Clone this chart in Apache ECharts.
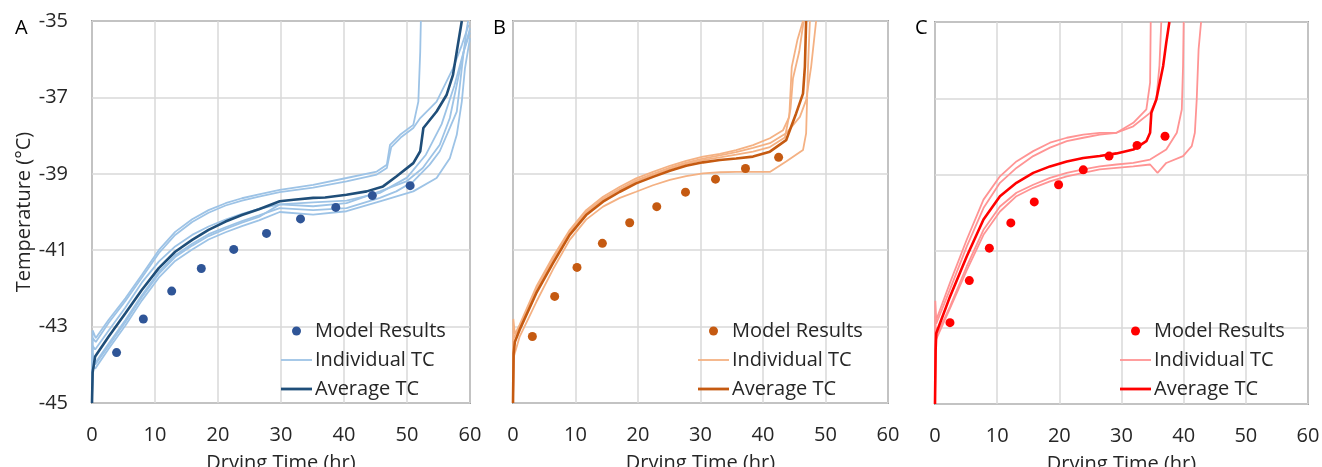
<!DOCTYPE html>
<html><head><meta charset="utf-8">
<script src="https://cdn.jsdelivr.net/npm/echarts@6/dist/echarts.min.js"></script>
<style>html,body{margin:0;padding:0;background:#fff}#c{width:1322px;height:467px}</style>
</head><body><div id="c"></div><script>
// ---------- data (drying time hr, temperature °C) ----------
const panelLabels = ['A', 'B', 'C'];
const seriesNames = ['Model Results', 'Individual TC', 'Average TC'];

// Panel A
const modelA = [[3.9,-43.68],[8.15,-42.80],[12.65,-42.07],[17.35,-41.48],[22.5,-40.98],[27.7,-40.56],[33.1,-40.18],[38.7,-39.88],[44.5,-39.57],[50.5,-39.31]];
const avgA = [[0,-45],[0.1,-44.2],[0.5,-43.78],[2.65,-43.26],[5.3,-42.65],[7.9,-42.04],[10.6,-41.47],[13.2,-41.04],[15.9,-40.73],[18.5,-40.47],[21.2,-40.25],[23.8,-40.08],[26.5,-39.93],[29.8,-39.72],[32,-39.68],[35.1,-39.63],[37,-39.62],[40.4,-39.55],[43.6,-39.46],[46.2,-39.33],[48.3,-39.07],[51.0,-38.72],[52.1,-38.41],[52.6,-37.8],[54.7,-37.37],[56.3,-36.93],[57.3,-36.41],[57.9,-35.8],[58.7,-35.0]];
const indA1 = [[0,-45],[0.1,-43.1],[0.6,-43.3],[2.65,-42.82],[5.3,-42.26],[7.9,-41.65],[10.6,-41.0],[13.2,-40.52],[15.9,-40.19],[18.5,-39.95],[21.2,-39.77],[23.8,-39.64],[26.5,-39.54],[29.8,-39.42],[35.1,-39.29],[40.4,-39.11],[45.2,-38.94],[46.8,-38.76],[47.3,-38.24],[48.9,-37.98],[51.0,-37.72],[51.8,-37.11],[52.1,-35.8],[52.2,-35]];
const indA2 = [[0,-45],[0.1,-43.3],[0.6,-43.4],[2.65,-42.9],[5.3,-42.33],[7.9,-41.72],[10.6,-41.08],[13.2,-40.6],[15.9,-40.26],[18.5,-40.02],[21.2,-39.83],[23.8,-39.7],[26.5,-39.6],[29.8,-39.48],[35.1,-39.36],[40.4,-39.2],[45.2,-39.02],[46.8,-38.85],[47.5,-38.3],[49,-38.05],[51,-37.8],[52.1,-37.54],[54.7,-37.11],[57.3,-36.24],[58.7,-35.63],[59.8,-35.1]];
const indA3 = [[0,-45],[0.1,-43.7],[0.5,-43.95],[2.65,-43.44],[5.3,-42.83],[7.9,-42.18],[10.6,-41.57],[13.2,-41.13],[15.9,-40.83],[18.5,-40.58],[21.2,-40.4],[23.8,-40.24],[26.5,-40.09],[29.8,-39.9],[35.1,-39.95],[40.4,-39.9],[45.7,-39.63],[48.3,-39.46],[51,-39.2],[53.6,-38.76],[55.2,-38.41],[56.8,-37.8],[57.9,-37.37],[58.4,-36.67],[59,-35.8],[59.5,-35.19],[59.7,-35]];
const indA4 = [[0,-45],[0.1,-44.0],[0.5,-44.1],[2.65,-43.58],[5.3,-42.97],[7.9,-42.32],[10.6,-41.72],[13.2,-41.28],[15.9,-40.98],[18.5,-40.72],[21.2,-40.53],[23.8,-40.37],[26.5,-40.22],[29.8,-40.0],[35.1,-40.07],[40.4,-39.98],[45.7,-39.72],[51,-39.46],[54.7,-39.11],[56.8,-38.59],[57.9,-37.98],[58.7,-37.11],[59.2,-36.24],[60,-35.45]];
const indA5 = [[0,-45],[0.1,-43.8],[0.5,-44.0],[2.65,-43.5],[5.3,-42.88],[7.9,-42.23],[10.6,-41.62],[13.2,-41.18],[15.9,-40.88],[18.5,-40.63],[21.2,-40.44],[23.8,-40.28],[26.5,-40.13],[29.8,-39.8],[35.1,-39.85],[40.4,-39.77],[45.7,-39.46],[49.9,-39.2],[52.5,-38.85],[55.2,-38.24],[56.8,-37.54],[57.9,-36.67],[59,-35.8],[60,-35.19]];
const indA6 = [[0,-45],[0.1,-43.5],[0.5,-43.6],[2.65,-43.1],[5.3,-42.5],[7.9,-41.85],[10.6,-41.3],[13.2,-40.9],[15.9,-40.6],[18.5,-40.38],[21.2,-40.2],[23.8,-40.05],[26.5,-39.92],[29.8,-39.8],[35.1,-39.75],[40.4,-39.7],[45.7,-39.5],[50,-39.1],[53,-38.5],[55.5,-37.7],[57.5,-36.7],[59,-35.8],[60,-35.3]];

// Panel B
const modelB = [[3.1,-43.26],[6.67,-42.21],[10.24,-41.45],[14.3,-40.82],[18.67,-40.28],[23.0,-39.86],[27.6,-39.48],[32.4,-39.14],[37.2,-38.86],[42.5,-38.57]];
const avgB = [[0,-45],[0.1,-43.7],[0.3,-43.4],[1.07,-43.08],[3.74,-42.12],[6.4,-41.34],[9.07,-40.6],[11.7,-40.08],[14.4,-39.73],[17.1,-39.47],[19.7,-39.25],[22.4,-39.08],[25.1,-38.92],[27.7,-38.79],[30.4,-38.7],[33.1,-38.64],[35.7,-38.6],[38.4,-38.55],[41.1,-38.42],[43.7,-38.12],[44.5,-37.77],[45.3,-37.42],[46.4,-36.9],[46.7,-36.2],[46.9,-35]];
const indB1 = [[0,-45],[0.05,-42.8],[0.3,-43.2],[1.07,-42.95],[3.74,-41.95],[6.4,-41.17],[9.07,-40.47],[11.7,-39.95],[14.4,-39.6],[17.1,-39.34],[19.7,-39.12],[22.4,-38.95],[25.1,-38.79],[27.7,-38.66],[30.4,-38.55],[33.1,-38.48],[35.7,-38.38],[38.4,-38.25],[41.1,-38.07],[43.2,-37.86],[44.2,-37.51],[44.6,-36.2],[45.5,-35.5],[46.4,-35]];
const indB2 = [[0,-45],[0.1,-43.3],[1.07,-43.0],[3.74,-42.02],[6.4,-41.23],[9.07,-40.52],[11.7,-40.0],[14.4,-39.65],[17.1,-39.39],[19.7,-39.17],[22.4,-39.0],[25.1,-38.84],[27.7,-38.71],[30.4,-38.6],[33.1,-38.52],[35.7,-38.43],[38.4,-38.32],[41.1,-38.2],[43.7,-37.94],[45.9,-37.51],[46.9,-37.07],[47.7,-36.2],[48.5,-35]];
const indB3 = [[0,-45],[0.1,-43.5],[1.07,-43.03],[3.74,-42.06],[6.4,-41.27],[9.07,-40.55],[11.7,-40.03],[14.4,-39.68],[17.1,-39.42],[19.7,-39.2],[22.4,-39.03],[25.1,-38.87],[27.7,-38.74],[30.4,-38.64],[33.1,-38.57],[35.7,-38.5],[38.4,-38.42],[41.1,-38.3],[43.5,-38.05],[44.4,-37.3],[44.8,-36.5],[45.8,-35.8],[46.5,-35]];
const indB4 = [[0,-45],[0.1,-43.8],[1.07,-43.26],[3.74,-42.35],[6.4,-41.5],[9.07,-40.73],[11.7,-40.2],[14.4,-39.86],[17.1,-39.63],[19.7,-39.47],[22.4,-39.3],[25.1,-39.16],[27.7,-39.06],[30.4,-38.99],[33.1,-38.96],[35.7,-38.95],[38.4,-38.95],[41.1,-38.95],[43.7,-38.68],[46.4,-38.38],[46.9,-37.94],[47.2,-36.2],[47.5,-35]];

// Panel C
const modelC = [[2.41,-42.87],[5.52,-41.77],[8.74,-40.92],[12.2,-40.26],[15.97,-39.71],[19.88,-39.26],[23.85,-38.87],[28.0,-38.51],[32.5,-38.23],[37.0,-37.99]];
const avgC = [[0,-45],[0.1,-43.6],[0.2,-43.15],[2.41,-42.19],[5.1,-41.14],[7.8,-40.17],[10.45,-39.56],[13.1,-39.21],[15.8,-38.95],[18.5,-38.78],[21.2,-38.65],[23.85,-38.56],[26.5,-38.51],[29.2,-38.44],[31.9,-38.34],[34.0,-38.12],[34.6,-37.9],[34.8,-37.38],[35.6,-37.03],[36.7,-36.15],[37.2,-35.54],[37.7,-35]];
const indC1 = [[0,-45],[0.05,-42.3],[0.2,-42.8],[2.41,-41.83],[5.1,-40.7],[7.8,-39.65],[10.45,-39.04],[13.1,-38.65],[15.8,-38.38],[18.5,-38.16],[21.2,-38.03],[23.85,-37.95],[26.5,-37.9],[29.2,-37.9],[31.9,-37.64],[34.0,-37.29],[34.6,-36.59],[34.7,-35]];
const indC2 = [[0,-45],[0.1,-42.7],[0.2,-42.9],[2.41,-42.0],[5.1,-40.88],[7.8,-39.87],[10.45,-39.21],[13.1,-38.82],[15.8,-38.51],[18.5,-38.29],[21.2,-38.12],[23.85,-38.03],[26.5,-37.95],[29.2,-37.9],[31.9,-37.73],[34.6,-37.38],[35.6,-37.03],[36.1,-36.15],[36.4,-35]];
const indC3 = [[0,-45],[0.1,-43.0],[0.2,-43.23],[2.41,-42.45],[5.1,-41.4],[7.8,-40.44],[10.45,-39.83],[13.1,-39.47],[15.8,-39.26],[18.5,-39.08],[21.2,-38.95],[23.85,-38.86],[26.5,-38.78],[29.2,-38.73],[31.9,-38.69],[34.6,-38.6],[37.2,-38.34],[38.9,-37.9],[39.7,-37.29],[39.9,-36.15],[40.0,-35]];
const indC4 = [[0,-45],[0.1,-43.1],[0.2,-43.3],[2.41,-42.5],[5.1,-41.5],[7.8,-40.57],[10.45,-39.96],[13.1,-39.56],[15.8,-39.34],[18.5,-39.17],[21.2,-39.04],[23.85,-38.95],[26.5,-38.86],[29.2,-38.82],[31.9,-38.78],[34.6,-38.73],[35.8,-38.95],[37.2,-38.69],[39.9,-38.51],[41.3,-38.25],[41.8,-37.9],[42.1,-37.03],[42.4,-35.72],[42.8,-35]];

// ---------- chart ----------
const FONT = 'Open Sans';
const TXT = '#262626';
const panels = [
  {model: modelA, avg: avgA, ind: [indA1, indA2, indA3, indA4, indA5, indA6], cInd: '#9DC3E6', cAvg: '#1F4E79', cDot: '#2F5597',
   grid: {left: 92, top: 21, width: 378, height: 382}, legendLeft: 281},
  {model: modelB, avg: avgB, ind: [indB1, indB2, indB3, indB4], cInd: '#F4B183', cAvg: '#C55A11', cDot: '#C55A11',
   grid: {left: 513, top: 21, width: 375, height: 382}, legendLeft: 698},
  {model: modelC, avg: avgC, ind: [indC1, indC2, indC3, indC4], cInd: '#FF9494', cAvg: '#FF0000', cDot: '#FF0000',
   grid: {left: 935, top: 22, width: 373, height: 382}, legendLeft: 1120}
];

const grids = [], xAxes = [], yAxes = [], series = [], legends = [];
panels.forEach((p, i) => {
  const suffix = '\u200b'.repeat(i);
  const nm = seriesNames.map(s => s + suffix);
  grids.push(Object.assign({show: true, borderColor: '#595959', borderWidth: 1.5, backgroundColor: 'transparent',
    containLabel: false, outerBoundsMode: 'none'}, p.grid));
  xAxes.push({
    type: 'value', gridIndex: i, min: 0, max: 60, interval: 10,
    axisLine: {show: false}, axisTick: {show: false},
    splitLine: {show: true, lineStyle: {color: '#D9D9D9', width: 1.5}},
    axisLabel: {fontFamily: FONT, fontSize: 20, color: TXT, margin: 22},
    name: 'Drying Time (hr)', nameLocation: 'middle', nameGap: 50,
    nameTextStyle: {fontFamily: FONT, fontSize: 20, color: TXT}
  });
  yAxes.push({
    type: 'value', gridIndex: i, min: -45, max: -35, interval: 2,
    axisLine: {show: false}, axisTick: {show: false},
    splitLine: {show: true, lineStyle: {color: '#D9D9D9', width: 1.5}},
    axisLabel: {show: i === 0, fontFamily: FONT, fontSize: 20, color: TXT, margin: 24},
    name: i === 0 ? 'Temperature (°C)' : '', nameLocation: 'middle', nameGap: 58,
    nameTextStyle: {fontFamily: FONT, fontSize: 20, color: TXT}
  });
  p.ind.forEach(d => series.push({
    type: 'line', name: nm[1], xAxisIndex: i, yAxisIndex: i, data: d, symbol: 'none', z: 2,
    lineStyle: {color: p.cInd, width: 1.8}, itemStyle: {color: p.cInd}, animation: false, clip: true
  }));
  series.push({
    type: 'line', name: nm[2], xAxisIndex: i, yAxisIndex: i, data: p.avg, symbol: 'none', z: 3,
    lineStyle: {color: p.cAvg, width: 2.6}, itemStyle: {color: p.cAvg}, animation: false, clip: true
  });
  series.push({
    type: 'scatter', name: nm[0], xAxisIndex: i, yAxisIndex: i, data: p.model, symbol: 'circle', symbolSize: 9, z: 4,
    itemStyle: {color: p.cDot, opacity: 1}, animation: false
  });
  legends.push({
    orient: 'vertical', left: p.legendLeft, top: 321, padding: 0, itemGap: 9,
    itemWidth: 31, itemHeight: 9, selectedMode: false, symbolKeepAspect: true,
    data: [
      {name: nm[0], icon: 'circle'},
      {name: nm[1], icon: 'path://M0,0H31V1.8H0Z'},
      {name: nm[2], icon: 'path://M0,0H31V2.8H0Z'}
    ],
    formatter: s => s.replace(/\u200b/g, ''),
    textStyle: {fontFamily: FONT, fontSize: 20, color: TXT, padding: [0, 0, 0, -2]}
  });
});

const chart = echarts.init(document.getElementById('c'), null, {renderer: 'canvas'});
chart.setOption({
  backgroundColor: '#fff',
  animation: false,
  grid: grids, xAxis: xAxes, yAxis: yAxes, series: series, legend: legends,
  graphic: panelLabels.map((t, i) => ({
    type: 'text', left: [15, 493, 915][i], top: 18,
    style: {text: t, fontFamily: FONT, fontSize: 20, fill: '#000'}
  }))
});
</script></body></html>
